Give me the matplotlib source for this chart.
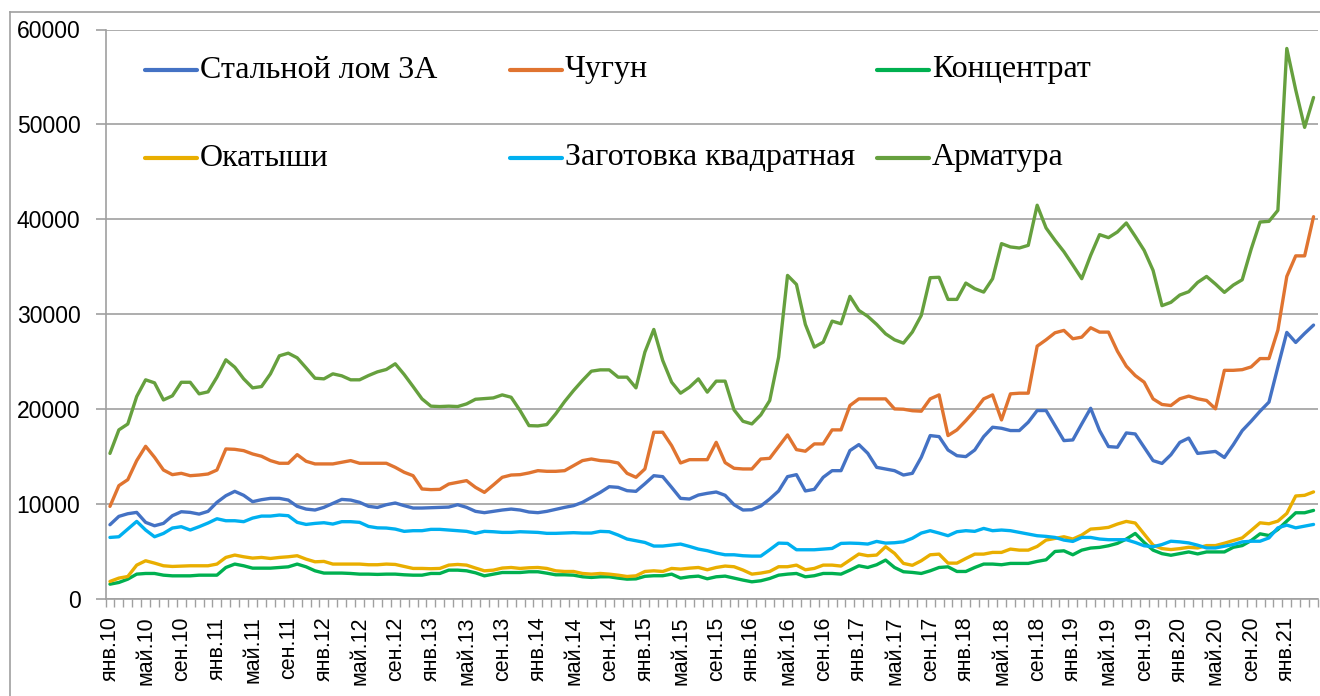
import matplotlib
matplotlib.use("Agg")
import matplotlib.pyplot as plt
from matplotlib.lines import Line2D
import numpy as np

# ---- data (monthly, Jan 2010 .. Apr 2021) ----
series_names = ["Стальной лом 3А", "Чугун", "Концентрат",
                "Окатыши", "Заготовка квадратная", "Арматура"]

scrap = [7780, 8660, 8940, 9080, 8030, 7670, 7920, 8730, 9150, 9080, 8900, 9190, 10140, 10840, 11300, 10880,
         10210, 10420, 10560, 10560, 10380, 9720, 9430, 9330, 9610, 10030, 10450, 10380, 10140, 9720, 9600,
         9890, 10070, 9790, 9540, 9540, 9570, 9610, 9640, 9890, 9610, 9190, 9050, 9190, 9330, 9430, 9330,
         9120, 9050, 9190, 9400, 9610, 9790, 10140, 10670, 11190, 11790, 11720, 11370, 11300, 12100,
         12950, 12850, 11720, 10560, 10490, 10910, 11090, 11230, 10880, 9890, 9330, 9360, 9750, 10490, 11340,
         12850, 13060, 11340, 11510, 12780, 13480, 13480, 15600, 16230, 15310, 13830, 13660, 13480, 13020,
         13200, 14890, 17180, 17070, 15660, 15060, 14960, 15660, 17070, 18060, 17950, 17710, 17710, 18590,
         19820, 19820, 18230, 16650, 16720, 18410, 20060, 17710, 16020, 15950, 17460, 17350, 15950, 14540,
         14240, 15160, 16460, 16920, 15300, 15400, 15510, 14870, 16220, 17700, 18690, 19750, 20710, 24420,
         28060, 27000, 27950, 28830]

pig_iron = [9715, 11900, 12530, 14540, 16050, 14890, 13550, 13060, 13200, 12950, 13020, 13130, 13550, 15770,
            15730, 15590, 15240, 15000, 14540, 14260, 14260, 15170, 14470, 14190, 14190, 14190, 14360, 14540,
            14260, 14260, 14260,
            14260, 13830, 13310, 12950, 11550, 11480, 11510, 12070, 12250, 12430, 11720, 11190, 11970, 12780,
            13020, 13060, 13240, 13480, 13410, 13410, 13480, 14010, 14540, 14710, 14540, 14470, 14290, 13200,
            12780, 13660,
            17530, 17530, 16120, 14290, 14640, 14640, 14640, 16470, 14330, 13730, 13660, 13660, 14710, 14780,
            16020, 17250, 15700, 15530, 16300, 16300, 17780, 17780, 20350, 21050, 21050, 21050, 21050, 19990,
            19960,
            19800, 19750, 21050, 21470, 17180, 17780, 18760, 19820, 21050, 21470, 18830, 21580, 21650, 21650,
            26610, 27280, 28020, 28270, 27390, 27560, 28550, 28090, 28090, 26080, 24500, 23510, 22810, 21050,
            20460, 20350, 21060, 21340, 21060, 20880, 20000, 24060, 24060, 24130, 24420, 25300, 25300, 28300,
            33960, 36130, 36130, 40260]

concentrate = [1510, 1690, 2040, 2570, 2640, 2640, 2460, 2390, 2390, 2390, 2460, 2460, 2460, 3270, 3630, 3450,
               3200, 3200, 3200, 3270, 3340, 3630, 3340, 2920, 2680, 2680, 2680, 2640, 2570, 2570, 2540,
               2570, 2570, 2500, 2460, 2460, 2640, 2640, 2990, 2990, 2920, 2710, 2390, 2570, 2740, 2740, 2740,
               2820, 2820, 2670, 2500, 2500, 2460, 2290, 2220, 2290, 2290, 2150, 2040, 2070, 2340,
               2400, 2400, 2570, 2150, 2290, 2360, 2080, 2290, 2360, 2150, 1940, 1760, 1870, 2110, 2460, 2570,
               2640, 2290, 2400, 2640, 2640, 2570, 2990, 3450, 3270, 3560, 4050, 3270, 2820,
               2750, 2640, 2920, 3270, 3340, 2850, 2850, 3270, 3630, 3630, 3560, 3700, 3700, 3700, 3910, 4080,
               4960, 5030, 4610, 5100, 5320, 5390, 5560, 5810, 6270, 6860, 5910, 5100,
               4730, 4560, 4730, 4910, 4700, 4910, 4910, 4910, 5400, 5580, 6110, 6820, 6640, 7280, 8160, 9040,
               9040, 9290]

pellets = [1800, 2150, 2320, 3520, 3980, 3730, 3450, 3380, 3410, 3450, 3450, 3450, 3630, 4330, 4580, 4400,
           4260, 4330, 4220, 4330, 4400, 4510, 4150, 3870, 3910, 3630, 3630, 3630, 3630, 3560, 3560,
           3630, 3590, 3380, 3170, 3170, 3140, 3170, 3520, 3590, 3520, 3210, 2920, 2990, 3210, 3270, 3170,
           3240, 3270, 3170, 2920, 2850, 2850, 2640, 2570, 2640, 2570, 2460, 2320, 2390, 2850,
           2920, 2850, 3170, 3100, 3200, 3270, 3030, 3270, 3420, 3350, 3000, 2570, 2680, 2850, 3350, 3350,
           3520, 3030, 3170, 3520, 3520, 3420, 4050, 4690, 4510, 4580, 5460, 4760, 3700,
           3500, 3980, 4610, 4680, 3730, 3730, 4220, 4680, 4680, 4860, 4860, 5210, 5100, 5100, 5490, 6160,
           6340, 6510, 6270, 6690, 7320, 7390, 7500, 7850, 8130, 7960, 6790, 5630,
           5260, 5160, 5260, 5400, 5330, 5580, 5580, 5830, 6110, 6390, 7170, 7980, 7880, 8160, 8970, 10810,
           10880, 11240]

billet = [6440, 6510, 7320, 8130, 7220, 6510, 6860, 7430, 7570, 7220, 7570, 7960, 8410, 8200, 8200, 8100,
          8480, 8690, 8690, 8800, 8730, 8030, 7810, 7920, 7990, 7850, 8100, 8100, 8030, 7600, 7450,
          7430, 7320, 7080, 7150, 7150, 7290, 7290, 7220, 7150, 7080, 6870, 7080, 7040, 6970, 6970, 7040,
          7010, 6970, 6870, 6870, 6900, 6940, 6900, 6900, 7080, 7040, 6690, 6270, 6090, 5910,
          5530, 5530, 5630, 5740, 5490, 5210, 5040, 4790, 4610, 4610, 4510, 4470, 4470, 5140, 5840, 5810,
          5140, 5140, 5140, 5210, 5280, 5810, 5840, 5810, 5740, 6020, 5840, 5880, 5980,
          6350, 6900, 7150, 6900, 6620, 7040, 7150, 7080, 7390, 7150, 7220, 7150, 6970, 6790, 6620, 6550,
          6440, 6160, 6020, 6440, 6440, 6270, 6200, 6200, 6200, 5910, 5560, 5460,
          5690, 6040, 5970, 5860, 5620, 5330, 5330, 5510, 5690, 5970, 6040, 6040, 6390, 7450, 7740, 7450,
          7630, 7810]

rebar = [15300, 17780, 18400, 21300, 23060, 22740, 20940, 21370, 22800, 22800, 21580, 21790, 23340, 25170,
         24390, 23160, 22210, 22350, 23690, 25590, 25870, 25380, 24320, 23230, 23160, 23690, 23480, 23060,
         23060, 23510, 23900,
         24150, 24750, 23620, 22350, 21050, 20280, 20240, 20280, 20240, 20520, 21010, 21080, 21150, 21470,
         21220, 19820, 18230, 18200, 18340, 19470, 20770, 21930, 22990, 23970, 24110, 24110, 23340, 23340,
         22210, 25980,
         28370, 25100, 22810, 21650, 22280, 23160, 21760, 22920, 22920, 19890, 18690, 18410, 19360, 20870,
         25450, 34070, 33120, 28900, 26510, 27030, 29250, 28970, 31860, 30380, 29750, 28900, 27910, 27280,
         26930,
         28100, 29850, 33830, 33870, 31540, 31540, 33260, 32670, 32310, 33720, 37420, 37070, 36960, 37240,
         41470, 39070, 37770, 36570, 35160, 33720, 36190, 38370, 38050, 38650, 39600, 38190, 36710, 34600,
         30880, 31230, 32000, 32350, 33330, 33960, 33160, 32280, 33050, 33610, 36830, 39700, 39770, 40930,
         58000, 53630, 49680, 52830]

# category labels: every month, shown every 4th
months_ru = ["янв", "фев", "мар", "апр", "май", "июн", "июл", "авг", "сен", "окт", "ноя", "дек"]
n = len(scrap)
categories = [f"{months_ru[k % 12]}.{10 + k // 12}" for k in range(n)]

colors = {
    "Стальной лом 3А": "#4472C4",
    "Чугун": "#E07430",
    "Концентрат": "#00B050",
    "Окатыши": "#E9AE00",
    "Заготовка квадратная": "#00B0F0",
    "Арматура": "#66A03E",
}
data = {
    "Стальной лом 3А": scrap,
    "Чугун": pig_iron,
    "Концентрат": concentrate,
    "Окатыши": pellets,
    "Заготовка квадратная": billet,
    "Арматура": rebar,
}

W, H = 1320, 696
fig = plt.figure(figsize=(W / 100, H / 100), dpi=100)
ax = fig.add_axes([105.5 / W, 1 - 598.5 / H, (1318 - 105.5) / W, (598.5 - 29.5) / H])

x = np.arange(n)
for name in series_names:
    ax.plot(x, data[name], color=colors[name], lw=2.4, solid_joinstyle="round",
            solid_capstyle="round", zorder=3)

ax.set_xlim(-0.5, n - 0.5)
ax.set_ylim(0, 60000)
ax.set_yticks(np.arange(0, 60001, 10000))
ax.yaxis.grid(True, color="#A0A0A0", lw=1.2, zorder=0)
ax.set_axisbelow(True)

ax.set_xticks(x[::4])
ax.set_xticklabels(categories[::4], rotation=90, fontsize=15.5,
                   family=["Liberation Sans", "DejaVu Sans"])
ax.set_xticks(np.arange(-0.5, n, 1), minor=True)
ax.tick_params(axis="x", which="major", length=0, pad=13)
ax.tick_params(axis="x", which="minor", length=6, color="#A0A0A0", width=1.0)
ax.tick_params(axis="y", which="major", length=7, color="#A0A0A0", width=1.2, pad=11, labelsize=16.5)
for lab in ax.get_yticklabels():
    lab.set_family(["Liberation Sans", "DejaVu Sans"])

for s in ["top", "right"]:
    ax.spines[s].set_visible(False)
for s in ["left", "bottom"]:
    ax.spines[s].set_color("#A0A0A0")
    ax.spines[s].set_linewidth(1.2)

# legend (2 rows x 3 columns, inside the plot)
col_x = [145, 510, 877]
row_y = [70, 158]
for k, name in enumerate(series_names):
    r, c = divmod(k, 3)
    x0 = col_x[c] / W
    y0 = 1 - row_y[r] / H
    fig.add_artist(Line2D([x0, x0 + 52 / W], [y0, y0], color=colors[name], lw=3,
                          solid_capstyle="round"))
    fig.text(x0 + 55 / W, y0, name, fontsize=23, va="center", ha="left",
             family=["Liberation Serif", "DejaVu Serif"])

# chart-area border (left and top visible)
fig.add_artist(Line2D([10 / W, 10 / W], [0, 1 - 12 / H], color="#A0A0A0", lw=1.2))
fig.add_artist(Line2D([10 / W, 1], [1 - 12 / H, 1 - 12 / H], color="#A0A0A0", lw=1.2))

fig.savefig("out.png", dpi=100)
